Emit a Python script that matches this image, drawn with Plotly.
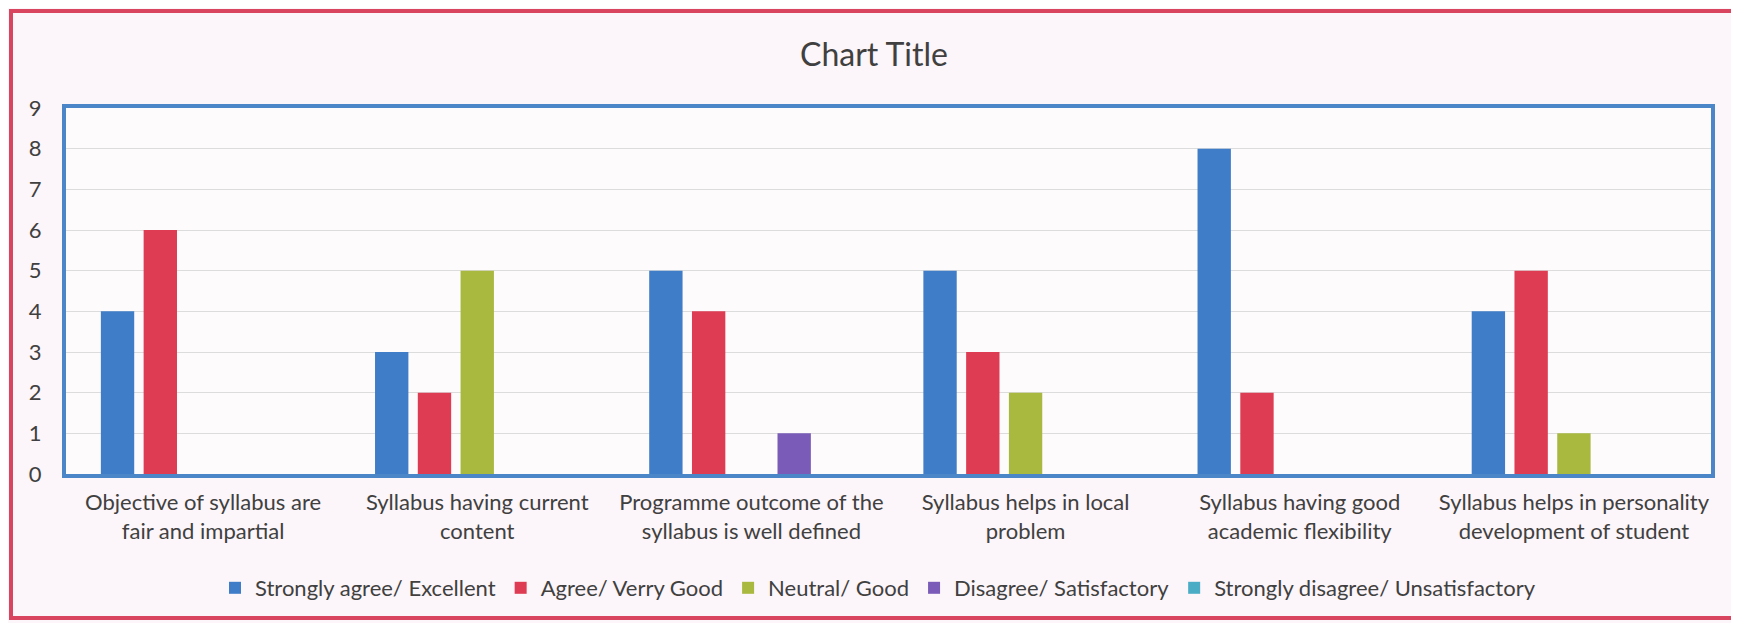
import plotly.graph_objects as go

categories = [
    "Objective of syllabus are<br>fair and impartial",
    "Syllabus having current<br>content",
    "Programme outcome of the<br>syllabus is well defined",
    "Syllabus helps in local<br>problem",
    "Syllabus having good<br>academic flexibility",
    "Syllabus helps in personality<br>development of student",
]
series_names = [
    "Strongly agree/ Excellent",
    "Agree/ Verry Good",
    "Neutral/ Good",
    "Disagree/ Satisfactory",
    "Strongly disagree/ Unsatisfactory",
]
strongly_agree = [4, 3, 5, 5, 8, 4]
agree = [6, 2, 4, 3, 2, 5]
neutral = [0, 5, 0, 2, 0, 1]
disagree = [0, 0, 1, 0, 0, 0]
strongly_disagree = [0, 0, 0, 0, 0, 0]
series_values = [strongly_agree, agree, neutral, disagree, strongly_disagree]
colors = ["#3F7DC9", "#DD3C52", "#A9B83F", "#7A5CB8", "#4BACC6"]
y_ticks = list(range(0, 10))

W, H = 1739, 623
L, R, T, B = 58, 1703, 100, 466

fig = go.Figure()
for name, vals, col in zip(series_names, series_values, colors):
    fig.add_trace(go.Bar(x=categories, y=vals, name=name, marker_color=col,
                         marker_line_width=0))

def px_x(p):
    return (p - L) / (R - L)

def px_y(p):
    return (B - p) / (B - T)

fig.add_shape(type="rect", xref="paper", yref="paper",
              x0=px_x(3), x1=px_x(1731), y0=px_y(610), y1=px_y(3),
              line=dict(color="#D9455E", width=4), layer="below")

font_family = "Lato, Open Sans, sans-serif"
fig.update_layout(
    width=W, height=H,
    margin=dict(l=L, r=W - R, t=T, b=H - B, pad=0),
    paper_bgcolor="#FCF5F9",
    plot_bgcolor="#FEFBFD",
    barmode="group",
    bargap=0.22,
    bargroupgap=0.22,
    title=dict(text="Chart Title", x=866 / W, xanchor="center",
               y=1 - 47 / H, yanchor="middle", yref="container",
               font=dict(family=font_family, size=32, color="#404040")),
    font=dict(family=font_family, size=22, color="#404040"),
    legend=dict(orientation="h", x=px_x(870), xanchor="center",
                y=px_y(580), yanchor="middle",
                font=dict(family=font_family, size=22, color="#404040"),
                bgcolor="rgba(0,0,0,0)", itemwidth=30, traceorder="normal"),
    showlegend=True,
)
fig.update_xaxes(showline=True, linecolor="#4A86C8", linewidth=4, mirror=True,
                 showgrid=False, ticks="", ticklabelstandoff=6,
                 tickfont=dict(family=font_family, size=22, color="#404040"))
fig.update_yaxes(range=[0, 9], tickvals=y_ticks, showline=True,
                 linecolor="#4A86C8", linewidth=4, mirror=True,
                 gridcolor="#DCDCDC", gridwidth=1, zeroline=False, ticks="",
                 ticklabelstandoff=16,
                 tickfont=dict(family=font_family, size=22, color="#404040"))

fig.write_html("out.html")
